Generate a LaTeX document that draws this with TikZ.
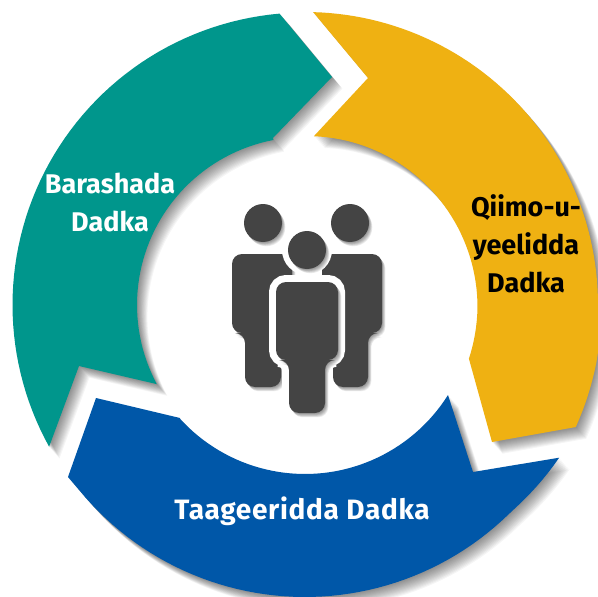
\documentclass[tikz,border=0pt]{standalone}
\usepackage{fontspec}
\setmainfont{Fira Sans}
\definecolor{tealc}{RGB}{0,150,140}
\definecolor{yellowc}{RGB}{239,177,18}
\definecolor{bluec}{RGB}{0,87,168}
\definecolor{iconc}{RGB}{68,68,68}
\tikzset{
  labeltext/.style={font=\bfseries\fontsize{27}{38}\selectfont, align=center, inner sep=0pt, anchor=base},
}
% ring segments
\newcommand{\tealpath}{(49,447) -- plot[domain=151:265,samples=60] ({305+292.5*cos(\x)},{305+292.5*sin(\x)}) -- (332,77) -- (273,138) -- plot[domain=259.2:151.9,samples=50] ({305+168*cos(\x)},{305+168*sin(\x)}) -- (79,366) -- cycle}
\newcommand{\yellowpath}{(313,12) -- plot[domain=-88.4:24.2,samples=70] ({305+(293+4*min(1,max(0,\x)/10))*cos(\x)},{305+(293+4*min(1,max(0,\x)/10))*sin(\x)}) -- (576,427) -- (492,442) -- (469,359) -- plot[domain=18.2:-87,samples=50] ({305+(172.5-3.5*max(0,-\x)/87)*cos(\x)},{305+(172.5-3.5*max(0,-\x)/87)*sin(\x)}) -- (368,78) -- cycle}
\newcommand{\bluepath}{(96,398) -- (180,418) -- plot[domain=137.9:32.2,samples=50] ({305+169*cos(\x)},{305+169*sin(\x)}) -- (473,472) -- plot[domain=31:140.6,samples=60] ({305+(292+4.5*max(0,45-\x)/14)*cos(\x)},{305+(292+4.5*max(0,45-\x)/14)*sin(\x)}) -- (68,477) -- cycle}
% icon paths
\newcommand{\leftbody}{[rounded corners=10pt] (232,254) -- (292,254) -- (292,345) -- (281,345) -- (281,387) -- (245,387) -- (245,333) -- (232,333) -- cycle}
\newcommand{\rightbody}{[rounded corners=10pt] (382,254) -- (322,254) -- (322,345) -- (333,345) -- (333,387) -- (368,387) -- (368,333) -- (382,333) -- cycle}
\newcommand{\centerbody}{[rounded corners=10pt] (276,282) -- (338,282) -- (338,360) -- (325,360) -- (325,413) -- (289,413) -- (289,360) -- (276,360) -- cycle}
\newcommand{\softshadow}[1]{%
  \foreach \k in {1,2,...,13}{
    \fill[black,opacity=.04,shift={(\k*.8,\k*.9)}] #1;
  }
}
\newcommand{\iconshadow}[1]{%
  \foreach \k in {1,2,...,6}{
    \fill[black,opacity=.08,shift={(\k*.55,\k*.7)}] #1;
  }
}
\begin{document}
\begin{tikzpicture}[x=1pt,y=-1pt]
\useasboundingbox (0,0) rectangle (598,597);
\fill[white] (0,0) rectangle (598,597);
\softshadow{\tealpath}
\fill[tealc] \tealpath;
\softshadow{\yellowpath}
\fill[yellowc] \yellowpath;
\softshadow{\bluepath}
\fill[bluec] \bluepath;
% icon
\iconshadow{\leftbody}
\iconshadow{\rightbody}
\iconshadow{(263,223) circle[radius=19]}
\iconshadow{(350,223) circle[radius=19]}
\fill[iconc] \leftbody;
\fill[iconc] \rightbody;
\fill[iconc] (263,223) circle[radius=19];
\fill[iconc] (350,223) circle[radius=19];
% halo around centre figure
\fill[white,draw=white,line width=14pt] \centerbody;
\fill[white] (307,250) circle[radius=25];
\iconshadow{\centerbody}
\iconshadow{(307,250) circle[radius=19]}
\fill[iconc] \centerbody;
\fill[iconc] (307,250) circle[radius=19];
% labels
\node[labeltext,text=white] (lblteal) at (110,231) {Barashada\\Dadka};
\node[labeltext,text=black] (lblyellow) at (526,292) {Qiimo-u-\\yeelidda\\Dadka};
\node[labeltext,text=white,font=\bfseries\fontsize{28}{38}\selectfont\addfontfeature{LetterSpace=2.5}] (lblblue) at (302,519) {Taageeridda Dadka};
\end{tikzpicture}
\end{document}
